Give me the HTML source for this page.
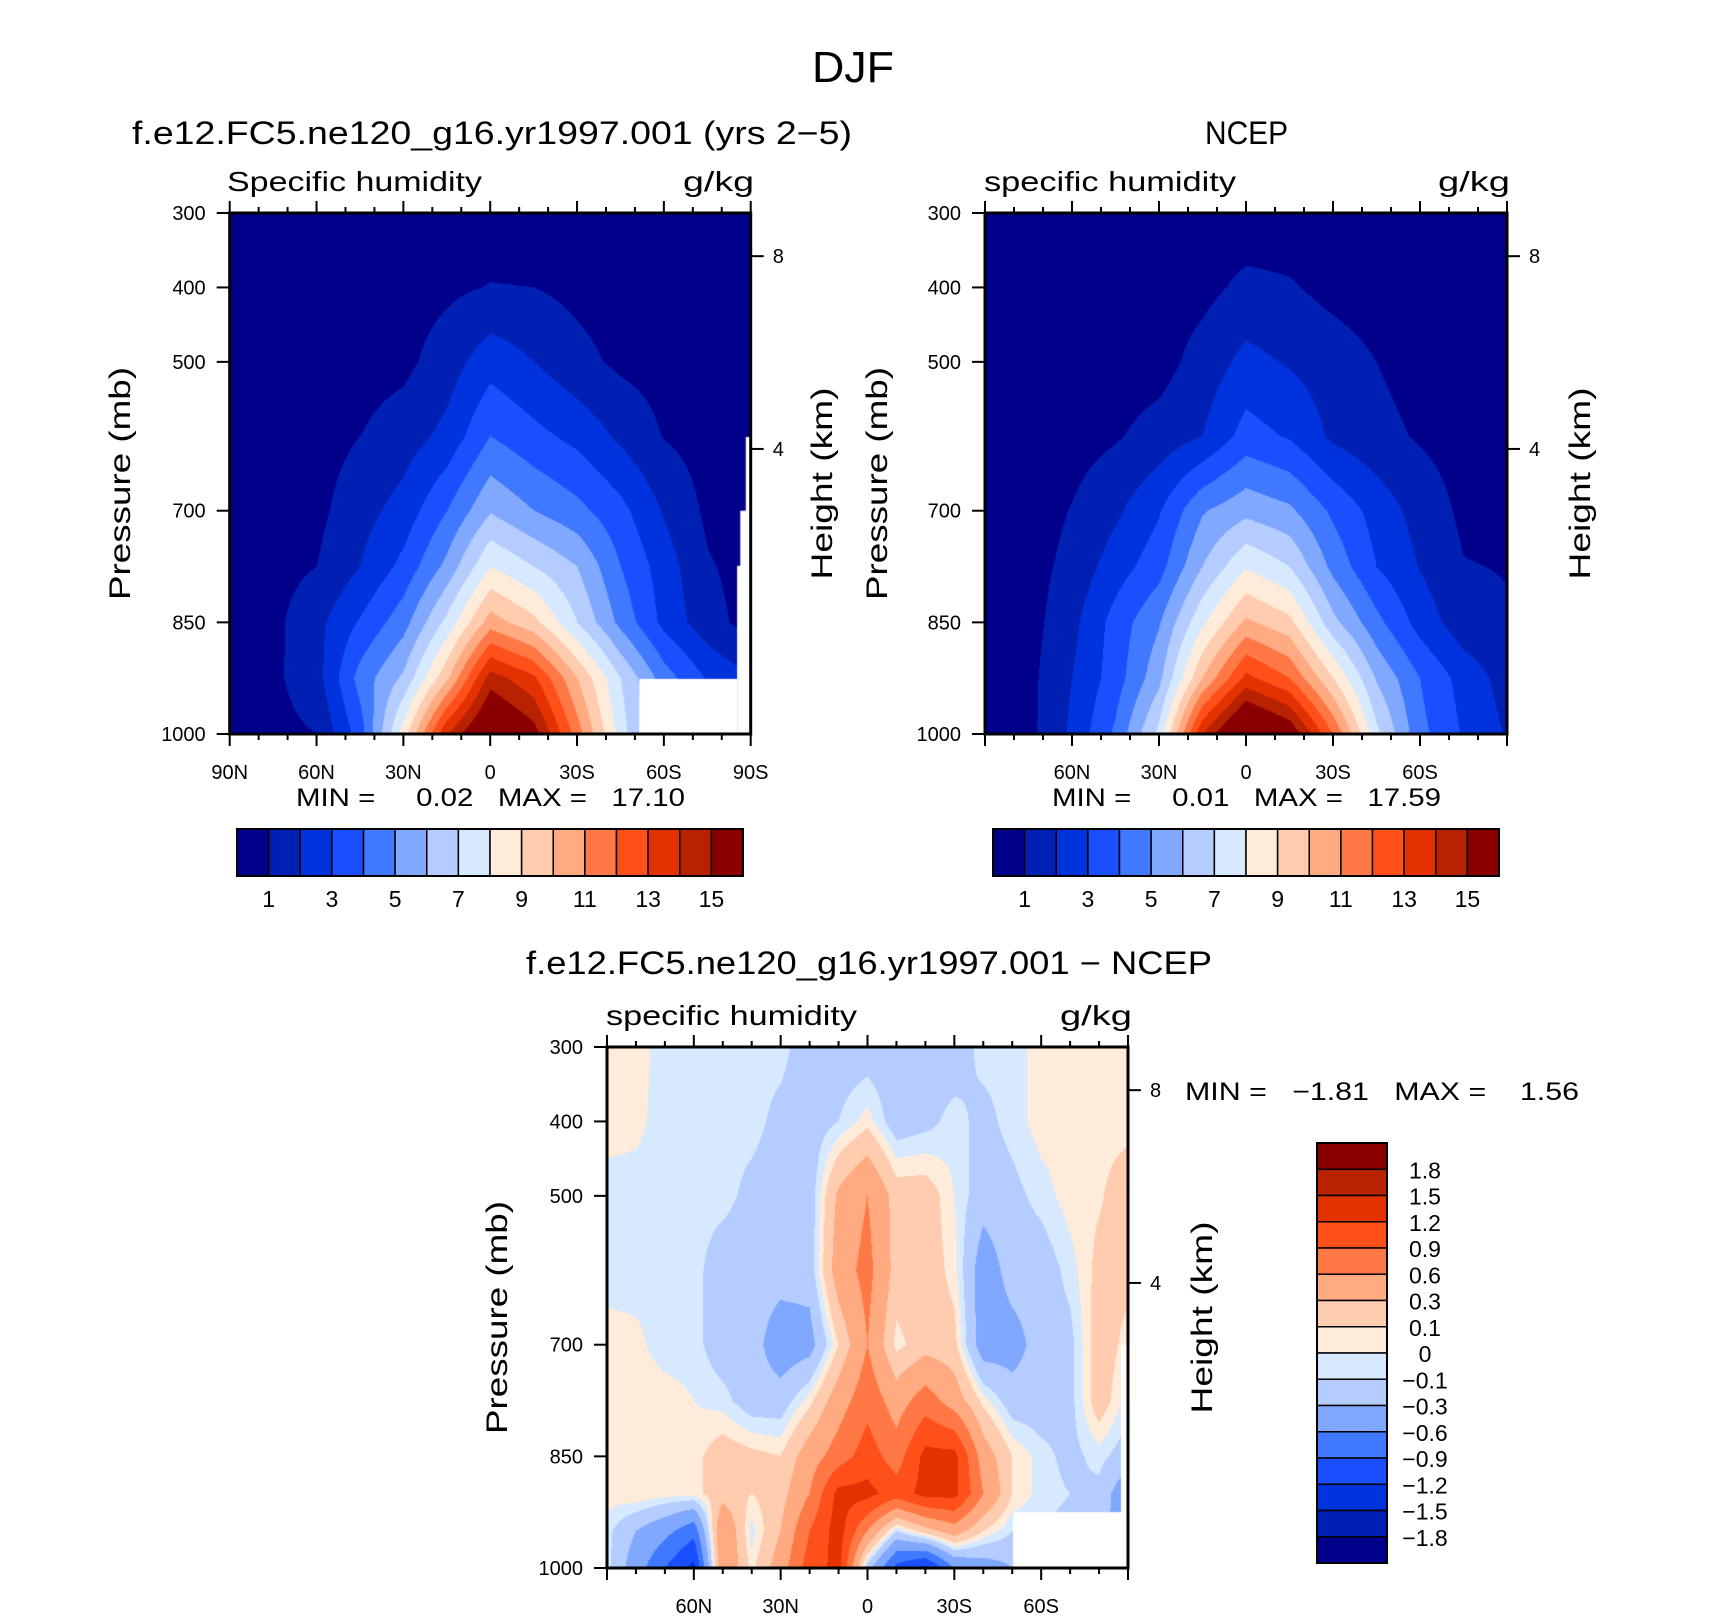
<!DOCTYPE html>
<html><head><meta charset="utf-8"><title>DJF specific humidity</title>
<style>
html,body{margin:0;padding:0;background:#fff;}
#wrap{position:relative;width:1710px;height:1616px;overflow:hidden;font-family:"Liberation Sans",sans-serif;}
canvas{position:absolute;}
svg{position:absolute;left:0;top:0;}
text{font-family:"Liberation Sans",sans-serif;fill:#000;}
</style></head>
<body>
<div id="wrap">
<canvas id="c1"></canvas>
<canvas id="c2"></canvas>
<canvas id="c3"></canvas>
<svg id="svg" width="1710" height="1616" xmlns="http://www.w3.org/2000/svg"></svg>
</div>
<script>
// ---- data ----
const topLevels = [1,2,3,4,5,6,7,8,9,10,11,12,13,14,15];
const topLabels = ["1","3","5","7","9","11","13","15"];
const diffLevels = [-1.8,-1.5,-1.2,-0.9,-0.6,-0.3,-0.1,0,0.1,0.3,0.6,0.9,1.2,1.5,1.8];
const diffLabels = ["1.8","1.5","1.2","0.9","0.6","0.3","0.1","0","\u22120.1","\u22120.3","\u22120.6","\u22120.9","\u22121.2","\u22121.5","\u22121.8"];
const palette = ["#00008a","#0020b4","#0033de","#1a4fff","#4078ff","#80a8ff","#b4ccff","#d7e9ff","#ffebd9","#ffccb0","#ffaa80","#ff7845","#ff501a","#e33200","#b82200","#8a0000"];
const pressureTicks = [300,400,500,700,850,1000];
const latTicks1 = [90,60,30,0,-30,-60,-90];
const latTicks2 = [60,30,0,-30,-60];
const heightTicks = [{km:"8",p:358},{km:"4",p:617}];

const lats13 = [90,75,60,45,30,15,0,-15,-30,-45,-60,-75,-90];
const pres9 = [300,400,500,600,700,775,850,925,1000];
const modelQ = [
 [.2,.2,.2,.2,.25,.3,.35,.35,.3,.25,.2,.2,.2],
 [.3,.3,.35,.45,.55,.8,1.05,1.0,.75,.55,.4,.3,.3],
 [.4,.45,.5,.6,.75,1.5,2.6,2.0,1.3,.8,.6,.45,.4],
 [.45,.5,.6,1.0,1.5,2.3,4.0,3.3,2.7,1.8,.95,.6,.5],
 [.5,.55,.75,1.6,2.4,4.0,5.9,5.0,4.3,3.3,1.9,.8,.5],
 [.55,.65,1.0,2.0,3.3,5.3,8.0,7.0,6.0,4.0,2.5,1.1,.6],
 [.6,.75,1.7,3.1,4.6,7.3,10.5,9.3,7.0,4.7,2.7,1.4,.6],
 [.55,.8,1.6,4.4,6.2,9.8,14.5,13.2,10.0,7.0,4.5,2.9,2.0],
 [.5,.7,1.0,3.5,8.5,14,17,15.5,11.5,7.5,4.5,3,2]
];
const ncepQ = [
 [.2,.2,.2,.25,.3,.35,.4,.4,.35,.3,.25,.2,.2],
 [.3,.3,.35,.4,.5,.7,1.25,1.1,.7,.5,.4,.3,.3],
 [.4,.4,.45,.5,.6,1.4,2.3,1.9,1.5,1.0,.6,.45,.4],
 [.45,.5,.6,.9,1.4,2.0,3.4,2.9,1.8,1.3,.9,.6,.5],
 [.5,.5,1.05,1.8,2.9,4.9,5.7,5.2,3.8,2.6,1.6,.8,.5],
 [.55,.6,1.3,2.5,3.6,6,7.9,7,4.7,3,1.95,1.05,.95],
 [.6,.6,1.7,3.4,4.9,7.8,10.2,9.3,6.3,4.3,2.6,1.4,1.1],
 [.6,.7,2.0,3.5,5.7,10,13.3,12,9,5.9,4,2.6,1.6],
 [.6,.7,2.2,4.2,7.3,14,17.5,16,12,7.3,4.3,2.9,1.9]
];
const diffLats = [90,80,70,60,50,40,30,20,10,0,-10,-20,-30,-40,-50,-60,-70,-80,-90];
const diffPres = [300,400,500,600,700,775,850,900,950,1000];
const diffQ = [
 [.05,.05,-.05,-.05,-.05,-.05,-.05,-.2,-.2,-.2,-.2,-.2,-.2,-.05,-.05,.05,.05,.05,.05],
 [.05,.03,-.05,-.05,-.05,-.05,-.15,-.2,-.1,.05,-.2,-.15,-.05,-.15,-.05,.05,.05,.05,.05],
 [-.05,-.05,-.05,-.05,-.05,-.15,-.2,-.2,.35,.6,.2,.2,0,-.2,-.15,-.05,.05,.08,.2],
 [-.05,-.05,-.05,-.05,-.2,-.2,-.2,-.2,.45,.7,.2,.2,.05,-.45,-.2,-.2,-.05,.15,.15],
 [.05,.03,-.05,-.05,-.2,-.2,-.45,-.4,.1,.6,.05,.2,.15,-.45,-.4,-.2,-.15,.2,.05],
 [.05,.05,.05,0,-.05,-.2,-.2,.05,.45,.8,.45,.75,.45,.05,-.2,-.2,-.15,.2,-.05],
 [.05,.05,.05,.05,.2,.15,.1,.45,.75,1.05,.75,1.3,1.3,.45,.1,-.05,-.15,-.05,-.2],
 [.05,.1,.05,.05,.2,.1,.2,.6,1.3,1.3,1.05,1.3,1.3,.6,.1,-.05,-.1,-.15,-.5],
 [-.05,-.3,-.5,-.8,.6,-.05,.3,.9,1.35,.6,-.1,.2,.45,.1,-.1,-.1,-.15,-.2,-.5],
 [-.05,-.45,-.9,-1.3,.6,.05,.45,1.05,1.3,-.2,-1.0,-1.3,-.6,-.45,-.3,-.2,-.2,-.3,-.5]
];
// missing-data masks in data coords [latFrom, latTo, pFrom, pTo]
const mask1 = [[-51.4,-85.2,926,1000],[-85.2,-90,774,1000],[-86.3,-90,700,1000],[-88.2,-90,601,1000]];
const mask2 = [];
const mask3 = [[-50.3,-87.6,925,1000],[-87.6,-90,700,1000]];

// ---- layout ----
const P1 = {x:229.7, y:213, w:521, h:521};
const P2 = {x:985, y:213, w:522, h:521};
const P3 = {x:607, y:1047, w:521, h:521};
const NS = "http://www.w3.org/2000/svg";
const svg = document.getElementById('svg');

function xOf(P, lat){ return P.x + (90 - lat) / 180 * P.w; }
function yOf(P, p){ return P.y + (p - 300) / 700 * P.h; }

function mk(tag, attrs, parent){
  const e = document.createElementNS(NS, tag);
  for (const k in attrs) e.setAttribute(k, attrs[k]);
  (parent || svg).appendChild(e);
  return e;
}
function txt(str, x, y, size, opts){
  opts = opts || {};
  const t = mk('text', {x:x, y:y, 'font-size':size});
  if (opts.anchor) t.setAttribute('text-anchor', opts.anchor);
  if (opts.len) { t.setAttribute('textLength', opts.len); t.setAttribute('lengthAdjust', 'spacingAndGlyphs'); }
  if (opts.rot) t.setAttribute('transform', 'rotate(-90 ' + x + ' ' + y + ')');
  t.textContent = str;
  return t;
}

function interp(lats, pres, grid, lat, p){
  let i = 0; while (i < lats.length - 2 && lat < lats[i+1]) i++;
  let j = 0; while (j < pres.length - 2 && p > pres[j+1]) j++;
  const fx = (lats[i] - lat) / (lats[i] - lats[i+1]);
  const fy = (p - pres[j]) / (pres[j+1] - pres[j]);
  const a = grid[j][i], b = grid[j][i+1], c = grid[j+1][i], d = grid[j+1][i+1];
  return (a*(1-fx) + b*fx) * (1-fy) + (c*(1-fx) + d*fx) * fy;
}
function hexRGB(h){ return [parseInt(h.substr(1,2),16), parseInt(h.substr(3,2),16), parseInt(h.substr(5,2),16)]; }
const palRGB = palette.map(hexRGB);

function drawField(id, P, lats, pres, grid, levels, masks){
  const cv = document.getElementById(id);
  const W = Math.round(P.w), H = Math.round(P.h);
  cv.width = W; cv.height = H;
  cv.style.left = P.x + 'px'; cv.style.top = P.y + 'px';
  const ctx = cv.getContext('2d');
  const img = ctx.createImageData(W, H);
  for (let py = 0; py < H; py++){
    const p = 300 + (py + 0.5) / H * 700;
    for (let px = 0; px < W; px++){
      const lat = 90 - (px + 0.5) / W * 180;
      const v = interp(lats, pres, grid, lat, p);
      let k = 0; while (k < levels.length && v >= levels[k]) k++;
      const c = palRGB[k];
      const o = (py * W + px) * 4;
      img.data[o] = c[0]; img.data[o+1] = c[1]; img.data[o+2] = c[2]; img.data[o+3] = 255;
    }
  }
  ctx.putImageData(img, 0, 0);
  ctx.fillStyle = '#fff';
  masks.forEach(m => {
    const x0 = (90 - m[0]) / 180 * W, x1 = (90 - m[1]) / 180 * W;
    const y0 = (m[2] - 300) / 700 * H, y1 = (m[3] - 300) / 700 * H;
    ctx.fillRect(x0, y0, x1 - x0, y1 - y0);
  });
}

function axes(P, name, latTicks, yLabelX, heightLabelX){
  const g = mk('g', {});
  
  
  for (let lat = 90; lat >= -90; lat -= 10){
    const x = xOf(P, lat);
    const major = (lat % 30 === 0);
    const L = major ? 12 : 6;
    mk('line', {x1:x, y1:P.y, x2:x, y2:P.y - L, stroke:'#000', 'stroke-width':2}, g);
    mk('line', {x1:x, y1:P.y + P.h, x2:x, y2:P.y + P.h + L, stroke:'#000', 'stroke-width':2}, g);
  }
  latTicks.forEach(lat => {
    const lbl = lat === 0 ? '0' : (Math.abs(lat) + (lat > 0 ? 'N' : 'S'));
    const t = txt(lbl, xOf(P, lat), P.y + P.h + 45, 20, {anchor:'middle'});
    
    
  });
  pressureTicks.forEach(p => {
    const y = yOf(P, p);
    mk('line', {x1:P.x - 13, y1:y, x2:P.x, y2:y, stroke:'#000', 'stroke-width':2}, g);
    const t = txt(String(p), P.x - 24, y + 7, 20, {anchor:'end'});
    
    
  });
  heightTicks.forEach(h => {
    const y = yOf(P, h.p);
    mk('line', {x1:P.x + P.w, y1:y, x2:P.x + P.w + 13, y2:y, stroke:'#000', 'stroke-width':2}, g);
    const t = txt(h.km, P.x + P.w + 22, y + 7, 20);
    
    
  });
  const fr = mk('rect', {x:P.x, y:P.y, width:P.w, height:P.h, fill:'none', stroke:'#000', 'stroke-width':3}, g);
  
  
  const yt = txt('Pressure (mb)', yLabelX, P.y + P.h / 2 + 10, 30, {anchor:'middle', rot:true, len:233});
  
  
  const ht = txt('Height (km)', heightLabelX, P.y + P.h / 2 + 10, 30, {anchor:'middle', rot:true, len:192});
  
  
}

function hColorbar(x, y, w, h, name){
  const g = mk('g', {});
  
  
  const bw = w / palette.length;
  palette.forEach((c, i) => {
    const r = mk('rect', {x:x + i*bw, y:y, width:bw, height:h, fill:c, stroke:'#000', 'stroke-width':1.5}, g);
    
    
  });
  mk('rect', {x:x, y:y, width:w, height:h, fill:'none', stroke:'#000', 'stroke-width':2}, g);
  topLabels.forEach((l, i) => {
    const t = txt(l, x + (1 + 2*i) * bw, y + h + 31, 23, {anchor:'middle'});
    
    
  });
}
function vColorbar(x, y, w, h, name){
  const g = mk('g', {});
  
  
  const bh = h / palette.length;
  for (let i = 0; i < palette.length; i++){
    const r = mk('rect', {x:x, y:y + i*bh, width:w, height:bh, fill:palette[palette.length - 1 - i], stroke:'#000', 'stroke-width':1.5}, g);
    
    
  }
  mk('rect', {x:x, y:y, width:w, height:h, fill:'none', stroke:'#000', 'stroke-width':2}, g);
  diffLabels.forEach((l, i) => {
    const t = txt(l, 1425, y + (i + 1) * bh + 9, 23, {anchor:'middle'});
    
    
  });
}

// ---- draw ----
drawField('c1', P1, lats13, pres9, modelQ, topLevels, mask1);
drawField('c2', P2, lats13, pres9, ncepQ, topLevels, mask2);
drawField('c3', P3, diffLats, diffPres, diffQ, diffLevels, mask3);

axes(P1, 'model-plot', latTicks1, 130, 832);
axes(P2, 'ncep-plot', latTicks2, 887, 1590);
axes(P3, 'diff-plot', latTicks2, 507, 1212);

const NB = '\u00a0';
let t;
t = txt('DJF', 853, 82, 44, {anchor:'middle', len:82});
 
t = txt('f.e12.FC5.ne120_g16.yr1997.001 (yrs 2\u22125)', 132, 144, 32, {len:720});
 
t = txt('NCEP', 1205, 144, 32, {len:83});
 
t = txt('Specific humidity', 227, 191, 28, {len:255});
 
t = txt('g/kg', 683, 191, 28, {len:71});
 
t = txt('specific humidity', 984, 191, 28, {len:252});
 
t = txt('g/kg', 1438, 191, 28, {len:72});
 
t = txt(('MIN =     0.02   MAX =   17.10').replace(/ /g, NB), 296, 806, 25, {len:389});
 
t = txt(('MIN =     0.01   MAX =   17.59').replace(/ /g, NB), 1052, 806, 25, {len:389});
 
t = txt('f.e12.FC5.ne120_g16.yr1997.001 \u2212 NCEP', 526, 974, 32, {len:686});
 
t = txt('specific humidity', 606, 1025, 28, {len:251});
 
t = txt('g/kg', 1060, 1025, 28, {len:72});
 
t = txt(('MIN =   \u22121.81   MAX =    1.56').replace(/ /g, NB), 1185, 1100, 25, {len:394});
 

hColorbar(237, 829, 506, 47, 'model-colorbar');
hColorbar(993, 829, 506, 47, 'ncep-colorbar');
vColorbar(1317, 1143, 70, 420, 'diff-colorbar');
</script>
</body></html>
